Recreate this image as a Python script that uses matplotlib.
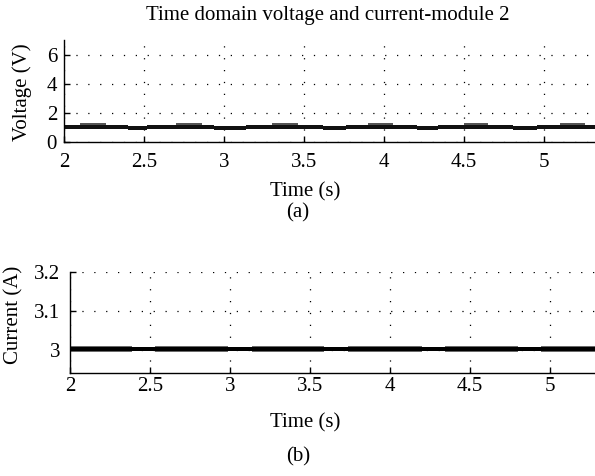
import numpy as np
import matplotlib.pyplot as plt

# module 2 voltage, read as step envelopes of the noisy trace
v_edges = [2.00, 2.10, 2.26, 2.40, 2.52, 2.70, 2.86, 2.94, 3.14, 3.30, 3.46, 3.62,
           3.76, 3.90, 4.06, 4.21, 4.34, 4.50, 4.65, 4.81, 4.96, 5.10, 5.26, 5.32]
v_low = [0.84, 0.84, 0.84, 0.82, 0.84, 0.84, 0.84, 0.82, 0.84, 0.84, 0.84, 0.82,
         0.84, 0.84, 0.84, 0.82, 0.84, 0.84, 0.84, 0.82, 0.84, 0.84, 0.84]
v_high = [1.16, 1.16, 1.16, 1.08, 1.16, 1.16, 1.16, 1.08, 1.16, 1.16, 1.16, 1.08,
          1.16, 1.16, 1.16, 1.08, 1.16, 1.16, 1.16, 1.08, 1.16, 1.16, 1.16]
# ripple bursts sitting on top of the band
burst_start = [2.10, 2.70, 3.30, 3.90, 4.50, 5.10]
burst_end = [2.26, 2.86, 3.46, 4.06, 4.65, 5.26]
burst_top = [1.26, 1.26, 1.26, 1.26, 1.26, 1.26]

# module 2 current: solid core plus noisy spread in some stretches
i_edges = [2.00, 2.39, 2.53, 2.99, 3.14, 3.59, 3.74, 4.20, 4.34, 4.80, 4.94, 5.32]
i_core_low = [2.9975] * 11
i_core_high = [3.0065] * 11
i_spread_low = [2.9945, 2.9975, 2.9945, 2.9975, 2.9945, 2.9975, 2.9945, 2.9975, 2.9945, 2.9975, 2.9945]
i_spread_high = [3.0100, 3.0065, 3.0100, 3.0065, 3.0100, 3.0065, 3.0100, 3.0065, 3.0100, 3.0065, 3.0100]

time_ticks = [2, 2.5, 3, 3.5, 4, 4.5, 5]
time_labels = ['2', '2.5', '3', '3.5', '4', '4.5', '5']
v_ticks = [0, 2, 4, 6]
i_ticks = [3.0, 3.1, 3.2]
i_labels = ['3', '3.1', '3.2']

plt.rcParams['font.family'] = ['Liberation Serif', 'DejaVu Serif']
plt.rcParams['font.size'] = 15

fig = plt.figure(figsize=(5.95, 4.76), dpi=100)


def style_axes(ax, xpad, ypad):
    for side in ['top', 'right']:
        ax.spines[side].set_visible(False)
    for side in ['left', 'bottom']:
        ax.spines[side].set_linewidth(1.0)
    ax.tick_params(direction='in', length=4, width=1.0, labelsize=15)
    ax.tick_params(axis='x', pad=xpad)
    ax.tick_params(axis='y', pad=ypad)
    ax.grid(True, color='black', linestyle=(0, (1, 8.5)), linewidth=0.9)
    ax.set_axisbelow(True)


# (a) voltage
ax1 = fig.add_axes([0.1076, 0.7023, 1 - 0.1076, 0.2137])
for s, e, top in zip(burst_start, burst_end, burst_top):
    ax1.fill_between([s, e], [1.0, 1.0], [top, top], color='#555555', linewidth=0)
ax1.stairs(v_high, v_edges, baseline=v_low, fill=True, color='#111111')
ax1.set_xlim(2, 5.32)
ax1.set_ylim(0, 7)
ax1.set_xticks(time_ticks)
ax1.set_xticklabels(time_labels)
ax1.set_yticks(v_ticks)
style_axes(ax1, 8, 5)
fig.text(0.037, 0.807, 'Voltage (V)', rotation=90, ha='center', va='center')

# (b) current
ax2 = fig.add_axes([0.1176, 0.2157, 1 - 0.1176, 0.2135])
ax2.stairs(i_spread_high, i_edges, baseline=i_spread_low, fill=True, color='#6a6a6a')
ax2.stairs(i_core_high, i_edges, baseline=i_core_low, fill=True, color='black')
ax2.set_xlim(2, 5.28)
ax2.set_ylim(2.94, 3.2)
ax2.set_xticks(time_ticks)
ax2.set_xticklabels(time_labels)
ax2.set_yticks(i_ticks)
ax2.set_yticklabels(i_labels)
style_axes(ax2, 3, 7)
fig.text(0.024, 0.338, 'Current (A)', rotation=90, ha='center', va='center')

fig.text(0.551, 0.968, 'Time domain voltage and current-module 2', ha='center', va='center')
fig.text(0.513, 0.597, 'Time (s)', ha='center', va='center')
fig.text(0.501, 0.552, '(a)', ha='center', va='center')
fig.text(0.513, 0.111, 'Time (s)', ha='center', va='center')
fig.text(0.501, 0.040, '(b)', ha='center', va='center')

fig.savefig('out.png', dpi=100)
